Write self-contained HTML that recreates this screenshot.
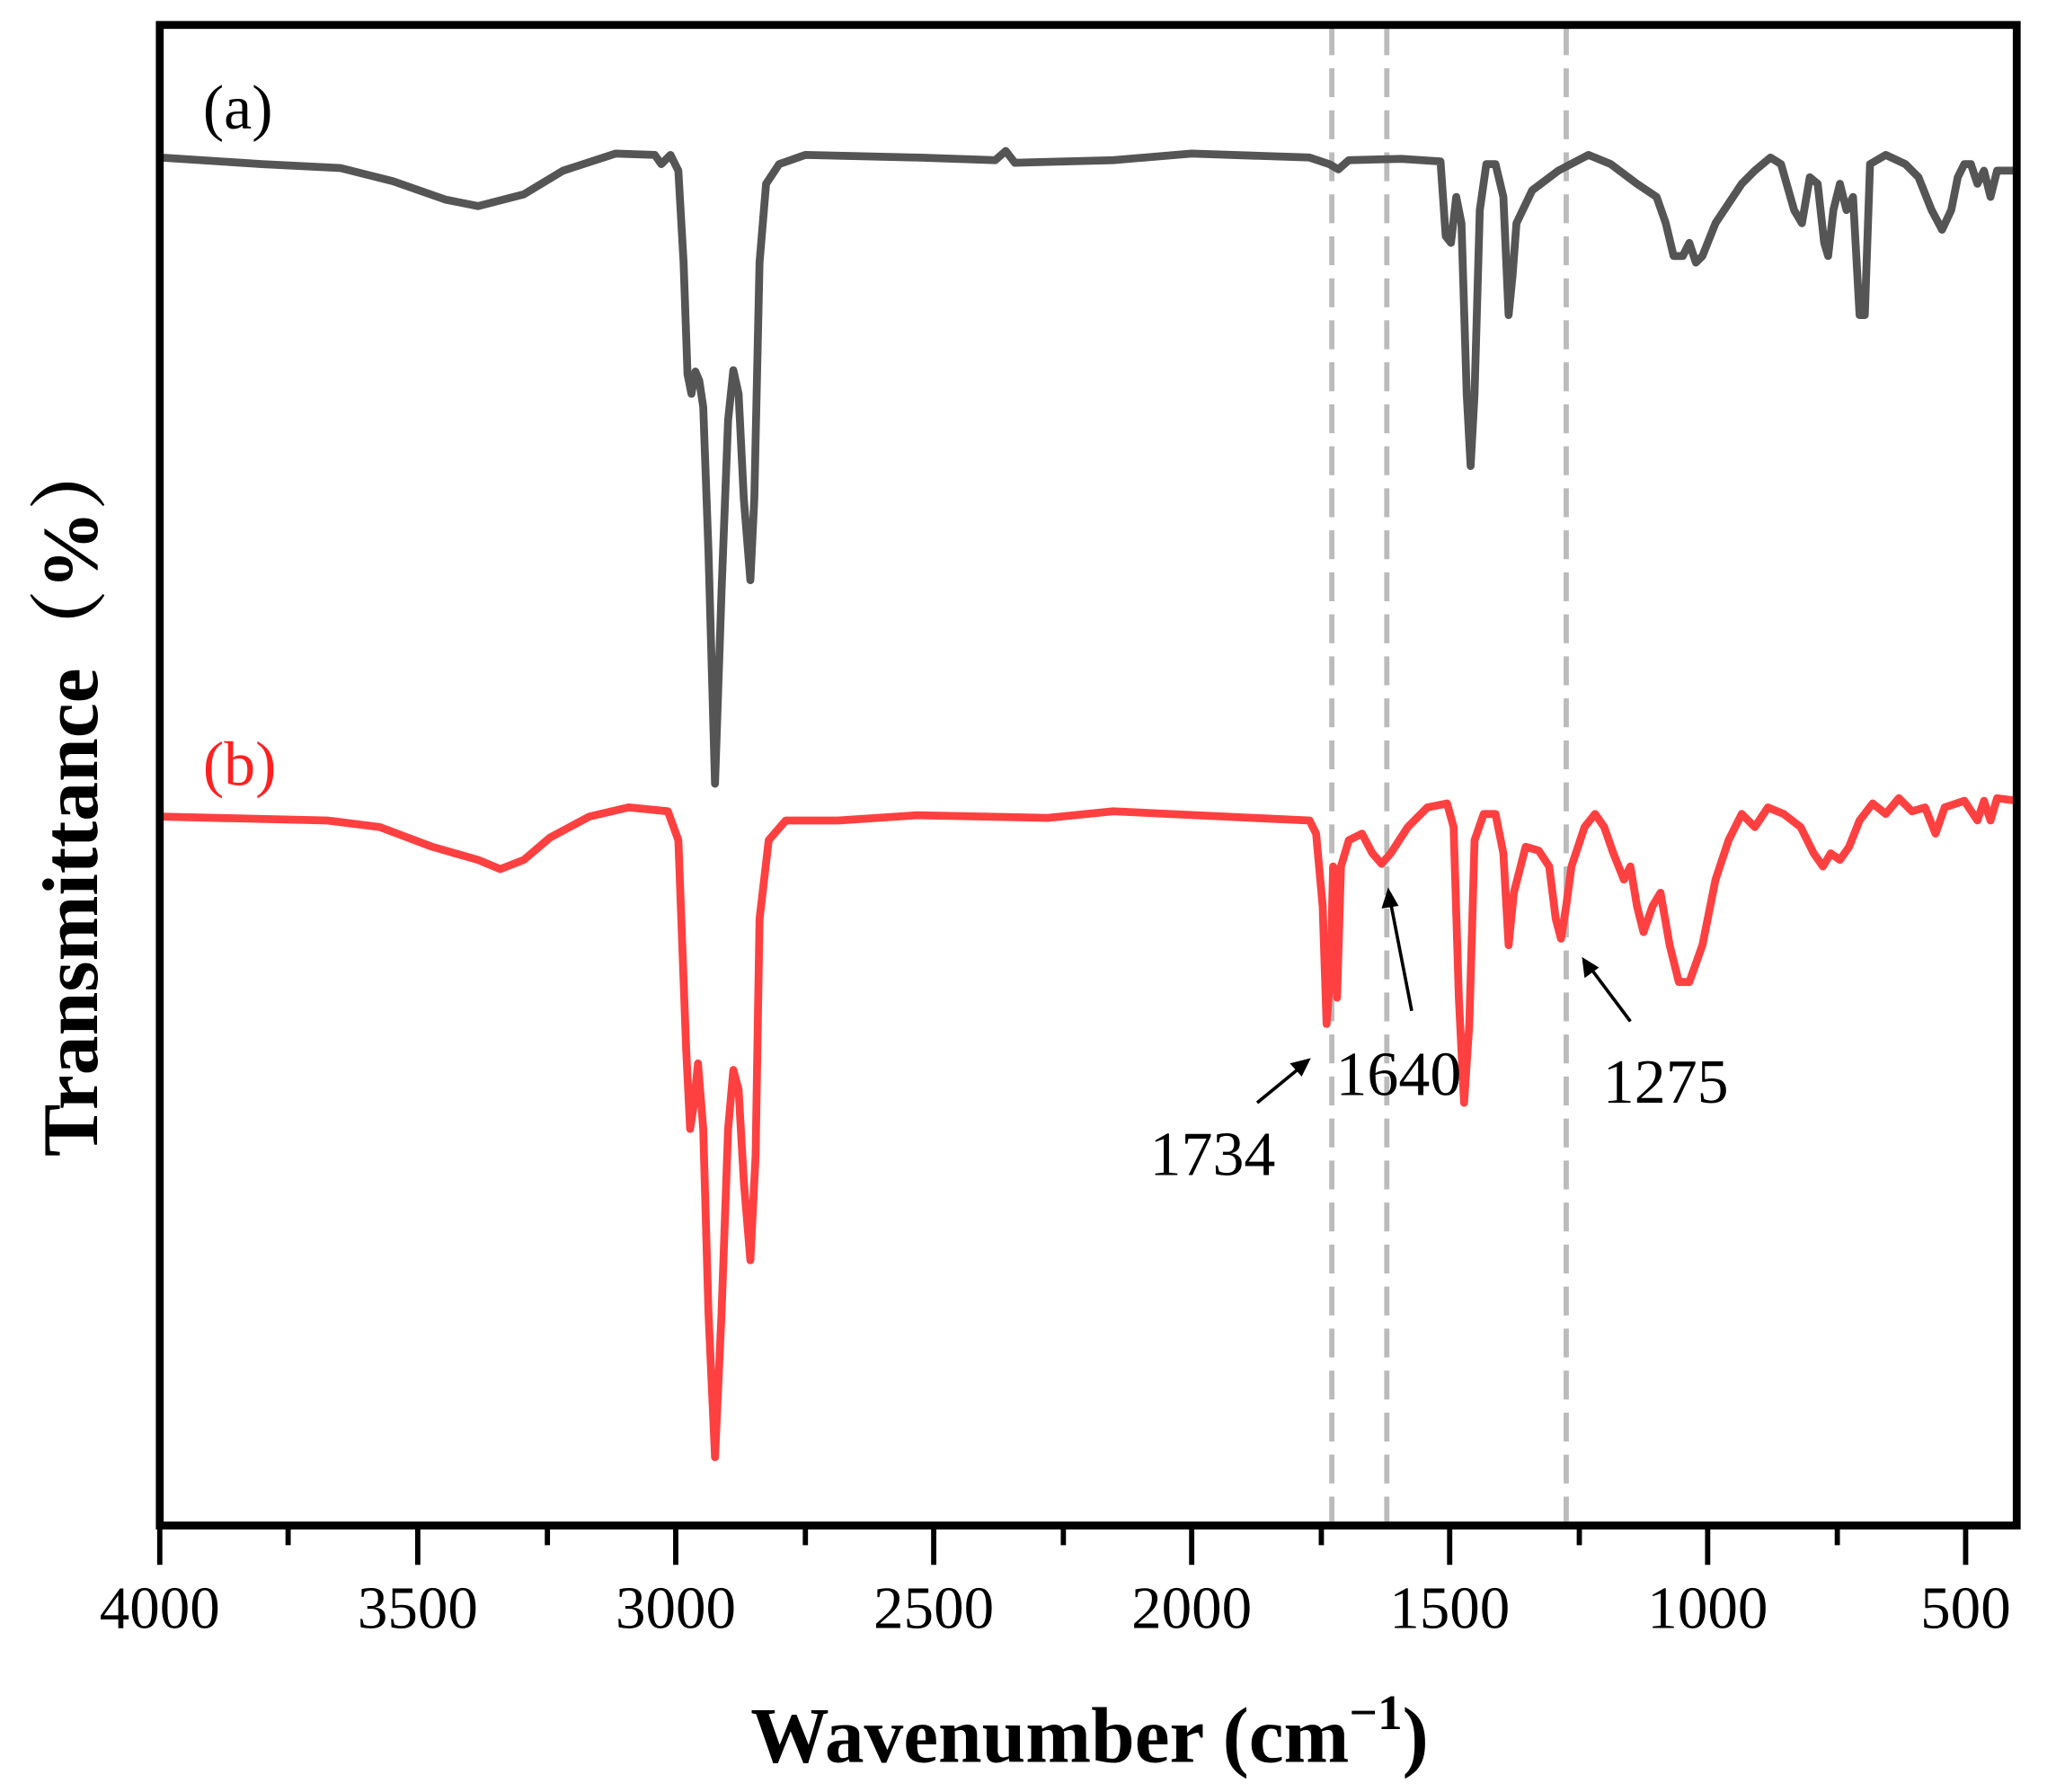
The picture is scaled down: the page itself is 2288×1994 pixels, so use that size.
<!DOCTYPE html>
<html><head><meta charset="utf-8"><style>html,body{margin:0;padding:0;background:#fff}svg{display:block}</style></head><body>
<svg width="2288" height="1994" viewBox="0 0 1570 1365" preserveAspectRatio="none" xmlns="http://www.w3.org/2000/svg" font-family="'Liberation Serif', serif">
<g stroke="#bbb" stroke-width="4" stroke-dasharray="22 10">
<line x1="1017" y1="20" x2="1017" y2="1160"/><line x1="1059" y1="20" x2="1059" y2="1160"/><line x1="1196" y1="20" x2="1196" y2="1160"/>
</g>
<polyline fill="none" stroke="#555" stroke-width="6" stroke-linejoin="round" points="122,120 200,125 260,128 300,138 340,152 365,157 400,148 430,130 470,117 500,118 505,125 512,118 518,130 522,200 525,285 528,300 531,283 534,290 537,310 541,420 546,597 551,450 556,320 560,282 564,300 568,380 573,442 576,380 580,200 585,140 595,125 615,118 700,120 760,122 768,115 775,124 850,122 910,117 1000,120 1015,125 1022,129 1030,122 1070,121 1100,123 1104,180 1108,185 1112,150 1116,170 1120,300 1123,355 1126,300 1130,160 1135,125 1142,125 1148,150 1152,240 1155,210 1158,170 1170,145 1190,130 1213,118 1230,125 1250,140 1265,150 1272,170 1278,195 1285,195 1290,185 1295,200 1300,195 1310,170 1330,140 1340,130 1352,120 1360,125 1370,160 1376,170 1382,135 1388,140 1393,185 1396,195 1400,160 1405,140 1410,160 1415,150 1420,240 1424,240 1428,125 1440,118 1455,125 1465,135 1475,160 1483,175 1490,160 1495,135 1500,125 1505,125 1510,140 1515,130 1520,150 1525,130 1540,130"/>
<polyline fill="none" stroke="#ff4040" stroke-width="6" stroke-linejoin="round" points="122,622 250,625 290,630 330,645 365,655 382,662 400,655 420,638 450,622 480,615 510,618 518,640 524,800 527,860 530,840 533,810 537,860 541,1000 546,1110 551,1000 556,860 560,815 564,830 568,900 573,960 577,880 580,700 587,640 600,625 640,625 700,621 800,623 850,618 1000,625 1005,635 1010,690 1013,780 1016,740 1018,660 1021,760 1024,660 1030,640 1040,635 1048,650 1055,658 1062,650 1075,630 1090,615 1105,612 1110,630 1114,760 1118,840 1122,780 1126,640 1133,620 1142,620 1148,650 1152,720 1156,680 1165,645 1175,648 1183,660 1188,700 1192,715 1196,690 1200,660 1210,630 1218,620 1225,630 1232,650 1240,670 1245,660 1250,690 1255,710 1262,690 1268,680 1275,720 1282,748 1290,748 1300,720 1310,670 1320,640 1330,620 1340,630 1350,615 1362,620 1375,630 1385,650 1392,660 1398,650 1405,655 1412,645 1420,625 1430,612 1440,620 1450,608 1460,618 1470,615 1478,635 1485,615 1500,610 1510,625 1515,610 1520,625 1525,608 1540,610"/>
<rect x="122" y="19" width="1418" height="1143" fill="none" stroke="#000" stroke-width="6"/>
<g stroke="#000" stroke-width="4">
<line x1="122" y1="1162" x2="122" y2="1192"/><line x1="319" y1="1162" x2="319" y2="1192"/><line x1="516" y1="1162" x2="516" y2="1192"/><line x1="713" y1="1162" x2="713" y2="1192"/><line x1="910" y1="1162" x2="910" y2="1192"/><line x1="1107" y1="1162" x2="1107" y2="1192"/><line x1="1304" y1="1162" x2="1304" y2="1192"/><line x1="1501" y1="1162" x2="1501" y2="1192"/>
<line x1="220" y1="1162" x2="220" y2="1177"/><line x1="418" y1="1162" x2="418" y2="1177"/><line x1="615" y1="1162" x2="615" y2="1177"/><line x1="812" y1="1162" x2="812" y2="1177"/><line x1="1009" y1="1162" x2="1009" y2="1177"/><line x1="1206" y1="1162" x2="1206" y2="1177"/><line x1="1403" y1="1162" x2="1403" y2="1177"/>
</g>
<g font-size="46" text-anchor="middle" fill="#000">
<text x="122" y="1240">4000</text><text x="319" y="1240">3500</text><text x="516" y="1240">3000</text><text x="713" y="1240">2500</text><text x="910" y="1240">2000</text><text x="1107" y="1240">1500</text><text x="1304" y="1240">1000</text><text x="1501" y="1240">500</text>
</g>
<text x="832" y="1342" font-size="60" font-weight="bold" text-anchor="middle">Wavenumber (cm<tspan dy="-25" font-size="38">−1</tspan><tspan dy="25">)</tspan></text>
<text transform="translate(74,605) rotate(-90)" font-size="60" font-weight="bold" text-anchor="middle" font-family="'Liberation Serif','Noto Serif CJK SC',serif">Transmittance（%）</text>
<text x="155" y="98" font-size="48">(a)</text>
<text x="155" y="598" font-size="48" fill="#ff2020">(b)</text>
<g font-size="48">
<text x="878" y="895">1734</text><text x="1020" y="834">1640</text><text x="1224" y="840">1275</text>
</g>
<g stroke="#000" stroke-width="2.5" fill="#000">
<line x1="960" y1="840" x2="993" y2="813"/><polygon points="1001,806 985,810 994,820" stroke="none"/>
<line x1="1078" y1="770" x2="1062" y2="688"/><polygon points="1060,676 1055,692 1068,690" stroke="none"/>
<line x1="1245" y1="778" x2="1215" y2="738"/><polygon points="1208,729 1210,745 1221,737" stroke="none"/>
</g>
</svg>
</body></html>
